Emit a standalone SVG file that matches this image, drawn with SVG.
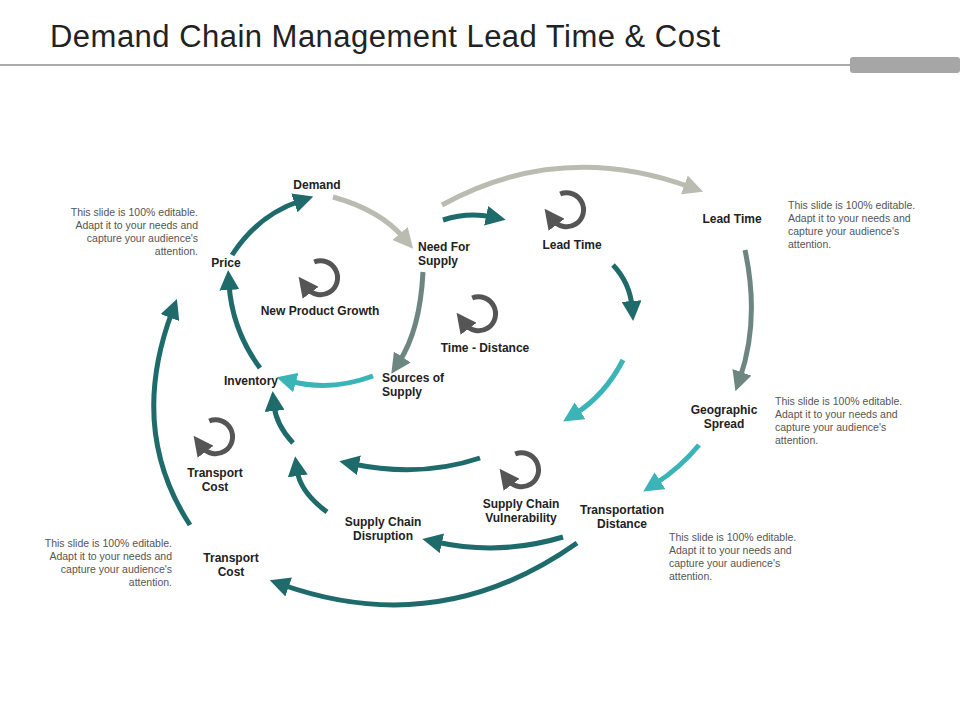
<svg xmlns="http://www.w3.org/2000/svg" width="960" height="720" viewBox="0 0 960 720">
<style>
text{font-family:"Liberation Sans",Arial,sans-serif}
.t{font-size:31px;fill:#222}
.l{font-size:12px;font-weight:bold;fill:#222}
.n{font-size:10.5px;fill:#555}
.a{fill:none;stroke-width:5}
.dt{stroke:#1f6a6a}.gy{stroke:#babbb1}.tg{stroke:#6d8780}.cy{stroke:#3bb4b7}.dg{stroke:#555}
</style>
<defs>
<marker id="mdt" viewBox="0 0 10 10" refX="3" refY="5" markerWidth="4" markerHeight="4" orient="auto" markerUnits="strokeWidth"><path d="M0,0L10,5L0,10z" fill="#1f6a6a"/></marker>
<marker id="mgy" viewBox="0 0 10 10" refX="3" refY="5" markerWidth="4" markerHeight="4" orient="auto" markerUnits="strokeWidth"><path d="M0,0L10,5L0,10z" fill="#babbb1"/></marker>
<marker id="mtg" viewBox="0 0 10 10" refX="3" refY="5" markerWidth="4" markerHeight="4" orient="auto" markerUnits="strokeWidth"><path d="M0,0L10,5L0,10z" fill="#6d8780"/></marker>
<marker id="mcy" viewBox="0 0 10 10" refX="3" refY="5" markerWidth="4" markerHeight="4" orient="auto" markerUnits="strokeWidth"><path d="M0,0L10,5L0,10z" fill="#3bb4b7"/></marker>
<marker id="mdg" viewBox="0 0 10 10" refX="3" refY="5" markerWidth="4" markerHeight="4" orient="auto" markerUnits="strokeWidth"><path d="M0,0L10,5L0,10z" fill="#555"/></marker>
<path id="loop" d="M-5.8,-16 A17,17 0 1 1 -13,10" class="a dg" marker-end="url(#mdg)"/>
</defs>
<rect width="960" height="720" fill="#fff"/>
<text x="50" y="47" class="t" textLength="670">Demand Chain Management Lead Time &amp; Cost</text>
<rect x="0" y="64" width="850" height="2" fill="#aaa"/>
<rect x="850" y="57" width="110" height="16" rx="3" fill="#a6a6a6"/>

<g id="connectors">
<path class="a dt" marker-end="url(#mdt)" d="M232,255 Q258,215 300,201"/>
<path class="a gy" marker-end="url(#mgy)" d="M333,197 Q380,210 404,238"/>
<path class="a tg" marker-end="url(#mtg)" d="M423,272 Q420,330 399,362"/>
<path class="a cy" marker-end="url(#mcy)" d="M373,376 Q330,392 290,381"/>
<path class="a dt" marker-end="url(#mdt)" d="M260,368 Q232,330 229,284"/>
<path class="a gy" marker-end="url(#mgy)" d="M442,205 Q560,140 690,187"/>
<path class="a dt" marker-end="url(#mdt)" d="M443,220 Q468,212 492,217"/>
<path class="a dt" marker-end="url(#mdt)" d="M613,265 Q630,283 632,307"/>
<path class="a cy" marker-end="url(#mcy)" d="M623,360 Q605,395 575,414"/>
<path class="a tg" marker-end="url(#mtg)" d="M745,250 Q760,320 740,378"/>
<path class="a cy" marker-end="url(#mcy)" d="M699,445 Q680,468 655,484"/>
<path class="a dt" marker-end="url(#mdt)" d="M480,458 Q420,478 353,464"/>
<path class="a dt" marker-end="url(#mdt)" d="M563,537 Q500,556 436,542"/>
<path class="a dt" marker-end="url(#mdt)" d="M577,543 Q440,640 283,585"/>
<path class="a dt" marker-end="url(#mdt)" d="M190,525 Q128,430 172,312"/>
<path class="a dt" marker-end="url(#mdt)" d="M327,512 Q300,492 297,470"/>
<path class="a dt" marker-end="url(#mdt)" d="M293,443 Q276,425 274,405"/>
</g>

<g id="loops">
<use href="#loop" x="320" y="278"/>
<use href="#loop" x="566" y="210"/>
<use href="#loop" x="478" y="314"/>
<use href="#loop" x="215" y="437"/>
<use href="#loop" x="521" y="470"/>
</g>

<g id="n-demand"><text x="317" y="189" class="l" text-anchor="middle">Demand</text></g>
<g id="n-need"><text x="418" y="251" class="l">Need For</text><text x="418" y="265" class="l">Supply</text></g>
<g id="n-price"><text x="226" y="267" class="l" text-anchor="middle">Price</text></g>
<g id="n-npg"><text x="320" y="315" class="l" text-anchor="middle">New Product Growth</text></g>
<g id="n-lt1"><text x="572" y="249" class="l" text-anchor="middle">Lead Time</text></g>
<g id="n-td"><text x="485" y="352" class="l" text-anchor="middle">Time - Distance</text></g>
<g id="n-sources"><text x="382" y="382" class="l">Sources of</text><text x="382" y="396" class="l">Supply</text></g>
<g id="n-inv"><text x="251" y="385" class="l" text-anchor="middle">Inventory</text></g>
<g id="n-lt2"><text x="732" y="223" class="l" text-anchor="middle">Lead Time</text></g>
<g id="n-geo"><text x="724" y="414" class="l" text-anchor="middle">Geographic</text><text x="724" y="428" class="l" text-anchor="middle">Spread</text></g>
<g id="n-tc1"><text x="215" y="477" class="l" text-anchor="middle">Transport</text><text x="215" y="491" class="l" text-anchor="middle">Cost</text></g>
<g id="n-scv"><text x="521" y="508" class="l" text-anchor="middle">Supply Chain</text><text x="521" y="522" class="l" text-anchor="middle">Vulnerability</text></g>
<g id="n-tdist"><text x="622" y="514" class="l" text-anchor="middle">Transportation</text><text x="622" y="528" class="l" text-anchor="middle">Distance</text></g>
<g id="n-scd"><text x="383" y="526" class="l" text-anchor="middle">Supply Chain</text><text x="383" y="540" class="l" text-anchor="middle">Disruption</text></g>
<g id="n-tc2"><text x="231" y="562" class="l" text-anchor="middle">Transport</text><text x="231" y="576" class="l" text-anchor="middle">Cost</text></g>

<g id="notes">
<text class="n" text-anchor="end"><tspan x="198" y="216">This slide is 100% editable.</tspan><tspan x="198" y="229">Adapt it to your needs and</tspan><tspan x="198" y="242">capture your audience's</tspan><tspan x="198" y="255">attention.</tspan></text>
<text class="n"><tspan x="788" y="209">This slide is 100% editable.</tspan><tspan x="788" y="222">Adapt it to your needs and</tspan><tspan x="788" y="235">capture your audience's</tspan><tspan x="788" y="248">attention.</tspan></text>
<text class="n"><tspan x="775" y="405">This slide is 100% editable.</tspan><tspan x="775" y="418">Adapt it to your needs and</tspan><tspan x="775" y="431">capture your audience's</tspan><tspan x="775" y="444">attention.</tspan></text>
<text class="n" text-anchor="end"><tspan x="172" y="547">This slide is 100% editable.</tspan><tspan x="172" y="560">Adapt it to your needs and</tspan><tspan x="172" y="573">capture your audience's</tspan><tspan x="172" y="586">attention.</tspan></text>
<text class="n"><tspan x="669" y="541">This slide is 100% editable.</tspan><tspan x="669" y="554">Adapt it to your needs and</tspan><tspan x="669" y="567">capture your audience's</tspan><tspan x="669" y="580">attention.</tspan></text>
</g>
</svg>
